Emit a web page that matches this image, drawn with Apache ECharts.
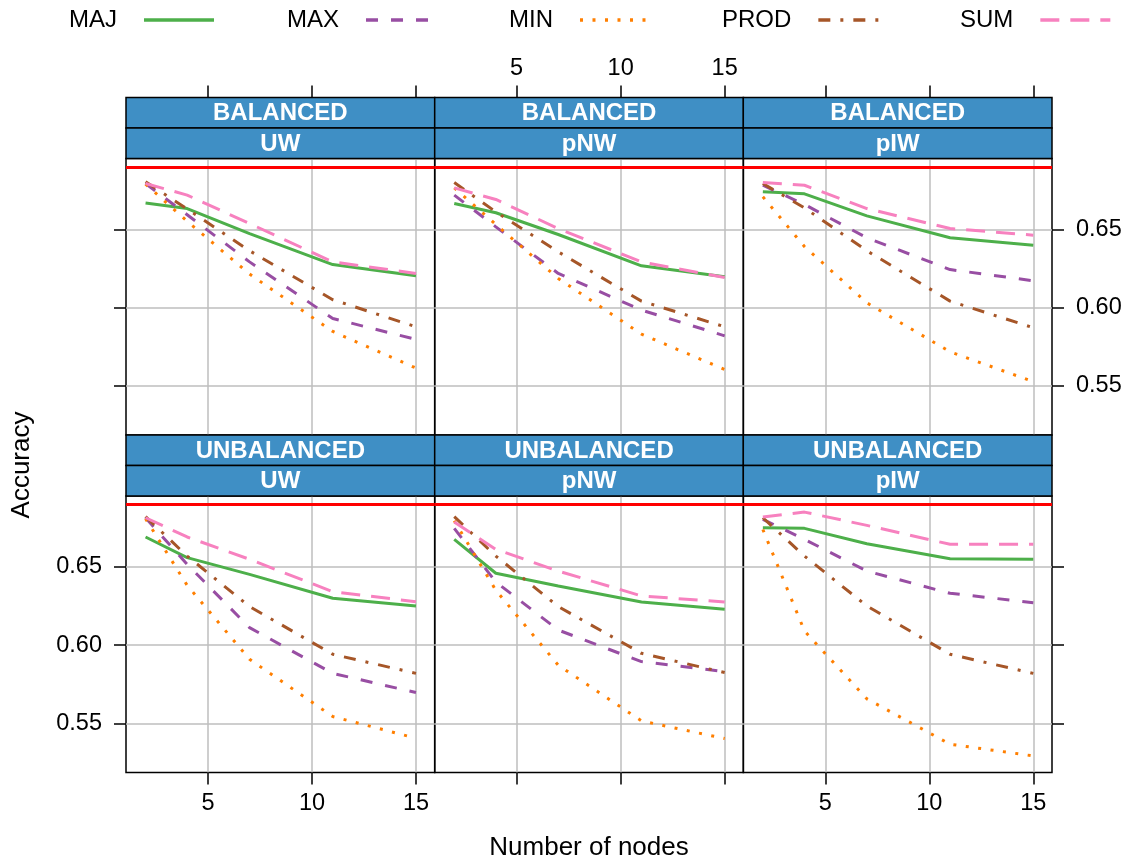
<!DOCTYPE html>
<html>
<head>
<meta charset="utf-8">
<script src="https://cdn.jsdelivr.net/npm/echarts@6/dist/echarts.min.js"></script>
<style>
  html, body { margin: 0; background: #fff; }
  #main { width: 1127px; height: 862px; }
</style>
</head>
<body>
<div id="main"></div>
<script>
// number of nodes (x)
const nodes = [2, 4, 7, 11, 15];
const rowNames = ['BALANCED', 'UNBALANCED'];
const colNames = ['UW', 'pNW', 'pIW'];
const methods = ['MAJ', 'MAX', 'MIN', 'PROD', 'SUM'];
const xTicks = [5, 10, 15];
const yTicks = [0.55, 0.60, 0.65];
const refAcc = 0.688;

// accuracy per panel, order: BAL-UW, BAL-pNW, BAL-pIW, UNB-UW, UNB-pNW, UNB-pIW
const accMAJ = [
  [0.667, 0.6634, 0.6474, 0.6276, 0.6204],
  [0.6666, 0.6607, 0.6468, 0.6268, 0.6198],
  [0.6741, 0.6728, 0.6587, 0.6447, 0.640],
  [0.6692, 0.656, 0.6453, 0.630, 0.6251],
  [0.6677, 0.646, 0.6379, 0.6276, 0.623],
  [0.6751, 0.6747, 0.6649, 0.6553, 0.6549]
];
const accMAX = [
  [0.6794, 0.6594, 0.6293, 0.5931, 0.5797],
  [0.672, 0.6517, 0.6219, 0.5985, 0.582],
  [0.6783, 0.666, 0.6447, 0.6244, 0.6172],
  [0.6815, 0.6517, 0.6112, 0.582, 0.5697],
  [0.6747, 0.6404, 0.6097, 0.5895, 0.5831],
  [0.6805, 0.6677, 0.6474, 0.6332, 0.6272]
];
const accMIN = [
  [0.679, 0.6553, 0.6215, 0.5848, 0.5614],
  [0.6766, 0.6532, 0.6187, 0.5831, 0.5605],
  [0.6709, 0.6391, 0.6031, 0.5718, 0.5527],
  [0.6809, 0.6383, 0.591, 0.5544, 0.5405],
  [0.6796, 0.6351, 0.5872, 0.5516, 0.5403],
  [0.674, 0.6091, 0.5657, 0.5367, 0.5292]
];
const accPROD = [
  [0.6805, 0.6632, 0.6364, 0.6051, 0.5878],
  [0.680, 0.6613, 0.6357, 0.6042, 0.5878],
  [0.6794, 0.6638, 0.6364, 0.6042, 0.5872],
  [0.6822, 0.657, 0.6247, 0.5942, 0.582],
  [0.6822, 0.657, 0.6247, 0.5948, 0.5825],
  [0.6815, 0.657, 0.6251, 0.5942, 0.582]
];
const accSUM = [
  [0.6794, 0.672, 0.6538, 0.6293, 0.6219],
  [0.6766, 0.6692, 0.6506, 0.6293, 0.6193],
  [0.680, 0.6783, 0.6634, 0.6506, 0.6464],
  [0.6815, 0.6692, 0.6549, 0.6342, 0.6278],
  [0.6788, 0.6613, 0.6474, 0.6315, 0.6276],
  [0.682, 0.6851, 0.6766, 0.6645, 0.6645]
];
const accByMethod = { MAJ: accMAJ, MAX: accMAX, MIN: accMIN, PROD: accPROD, SUM: accSUM };

const styles = {
  MAJ:  { color: '#4DAF4A', type: 'solid' },
  MAX:  { color: '#984EA3', type: [12, 13] },
  MIN:  { color: '#FF7F00', type: [3, 9.5] },
  PROD: { color: '#A65628', type: [12, 10, 3, 10] },
  SUM:  { color: '#F781BF', type: [19, 11] }
};

const FONT = '"Liberation Sans", Arial, sans-serif';
const colLeft = [126, 434.7, 743.3];
const colW = 308.7;
const stripH = 30.5;
const panelTop = [158.5, 496];
const panelH = 276.5;
const legendLeft = [69, 287, 509, 722, 960];

let grids = [], xAxes = [], yAxes = [], series = [], graphics = [];

rowNames.forEach((rn, r) => {
  colNames.forEach((cn, c) => {
    const idx = r * 3 + c;
    grids.push({
      left: colLeft[c], top: panelTop[r], width: colW, height: panelH,
      show: true, borderColor: '#000', borderWidth: 1.5, backgroundColor: 'transparent'
    });
    xAxes.push({
      gridIndex: idx, type: 'value', min: 1.06, max: 15.9,
      position: r === 0 ? 'top' : 'bottom',
      offset: r === 0 ? stripH * 2 : 0,
      axisLine: { show: false },
      axisTick: { show: true, customValues: xTicks, length: 12, lineStyle: { color: '#000', width: 1.5 } },
      axisLabel: {
        show: (r === 0 && c === 1) || (r === 1 && c !== 1),
        customValues: xTicks, margin: r === 0 ? 17 : 19, fontSize: 23.5, color: '#000', fontFamily: FONT
      },
      splitLine: { show: true, lineStyle: { color: '#bebebe', width: 1.5 } }
    });
    yAxes.push({
      gridIndex: idx, type: 'value', min: 0.5186, max: 0.6954,
      position: c === 2 ? 'right' : 'left',
      axisLine: { show: false },
      axisTick: {
        show: c !== 1, customValues: yTicks, length: 12,
        lineStyle: { color: '#000', width: 1.5 }
      },
      axisLabel: {
        show: (c === 0 && r === 1) || (c === 2 && r === 0),
        customValues: yTicks, margin: 24, fontSize: 23.5, color: '#000', fontFamily: FONT,
        formatter: v => v.toFixed(2)
      },
      splitLine: { show: true, lineStyle: { color: '#bebebe', width: 1.5 } }
    });

    methods.forEach((m, k) => {
      const s = {
        type: 'line', name: m, xAxisIndex: idx, yAxisIndex: idx,
        data: nodes.map((x, i) => [x, accByMethod[m][idx][i]]),
        symbol: 'none', silent: true, animation: false,
        lineStyle: { color: styles[m].color, width: 3, type: styles[m].type },
        itemStyle: { color: styles[m].color },
        z: 3
      };
      if (k === 0) {
        s.markLine = {
          silent: true, symbol: 'none', animation: false,
          label: { show: false },
          lineStyle: { color: '#FF0000', width: 3, type: 'solid' },
          data: [{ yAxis: refAcc }]
        };
      }
      series.push(s);
    });

    // strips
    const stripTop = panelTop[r] - stripH * 2;
    [rn, cn].forEach((label, j) => {
      graphics.push({
        type: 'rect', z: 10,
        shape: { x: colLeft[c], y: stripTop + j * stripH, width: colW, height: stripH },
        style: { fill: '#3F8FC5', stroke: '#000', lineWidth: 1.5 }
      });
      graphics.push({
        type: 'text', z: 11,
        x: colLeft[c] + colW / 2, y: stripTop + j * stripH + stripH / 2 + 1,
        style: {
          text: label, fill: '#fff', font: 'bold 24px ' + FONT,
          align: 'center', verticalAlign: 'middle'
        }
      });
    });
  });
});

graphics.push({
  type: 'text', x: 22, y: 465, rotation: Math.PI / 2,
  style: { text: 'Accuracy', fill: '#000', font: '26px ' + FONT, align: 'center', verticalAlign: 'middle' }
});
graphics.push({
  type: 'text', x: 589, y: 848,
  style: { text: 'Number of nodes', fill: '#000', font: '26px ' + FONT, align: 'center', verticalAlign: 'middle' }
});

const legends = methods.map((m, i) => ({
  data: [m], left: legendLeft[i], top: 8, align: 'right', padding: 0,
  itemWidth: 70, itemHeight: 14, selectedMode: false,
  itemStyle: { color: 'rgba(0,0,0,0)', borderWidth: 0, opacity: 0 },
  lineStyle: { width: 3.5 },
  textStyle: { fontSize: 24, color: '#000', fontFamily: FONT, padding: [0, 22, 0, 0] }
}));

let myChart = echarts.init(document.getElementById('main'));
myChart.setOption({
  backgroundColor: '#fff',
  animation: false,
  legend: legends,
  grid: grids,
  xAxis: xAxes,
  yAxis: yAxes,
  series: series,
  graphic: graphics
});
</script>
</body>
</html>
